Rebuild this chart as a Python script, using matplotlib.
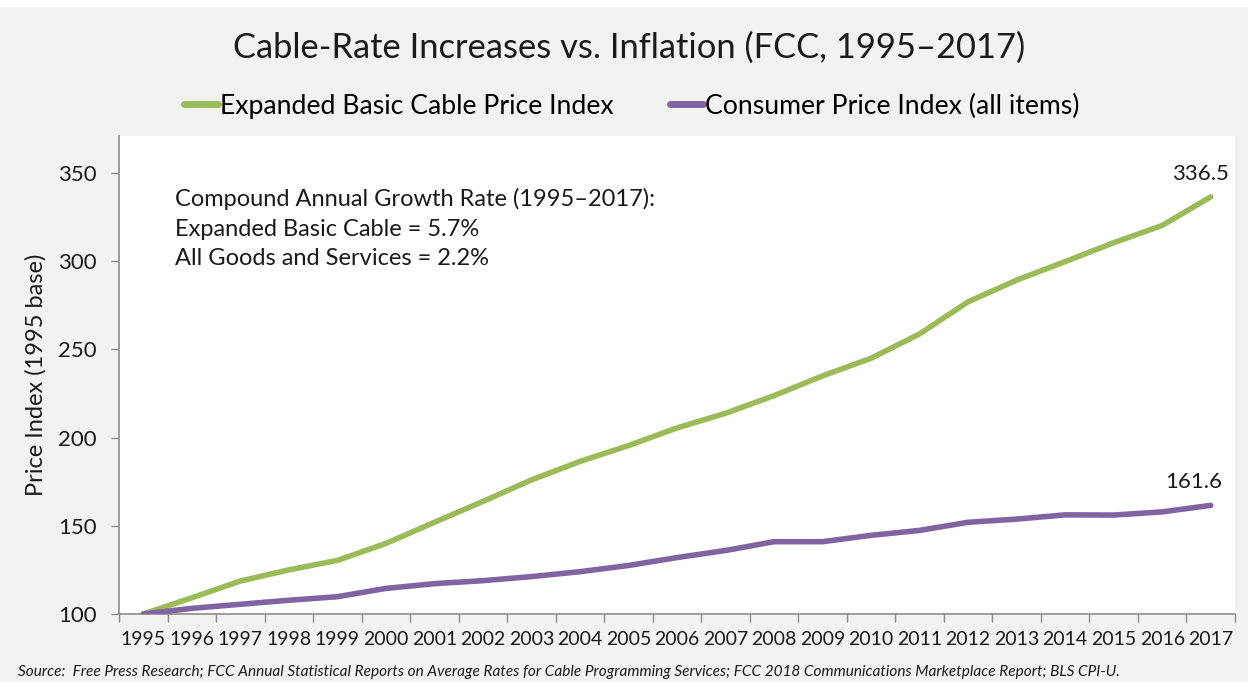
import matplotlib
matplotlib.use("Agg")
import matplotlib.pyplot as plt
from matplotlib.patches import Rectangle

# ---- data ----
years = list(range(1995, 2018))
cable_index = [100, 109.2, 118.7, 125.0, 130.4, 140.0, 152.0, 163.8, 176.0, 186.5,
               195.5, 205.5, 213.8, 223.8, 235.0, 245.0, 258.8, 277.0, 289.3, 299.8,
               310.5, 320.3, 336.5]
cpi_index = [100, 103.2, 105.5, 107.8, 109.8, 114.5, 117.2, 118.9, 121.2, 124.0,
             127.5, 132.0, 136.0, 141.0, 141.0, 144.6, 147.4, 152.0, 153.8, 156.2,
             156.1, 157.9, 161.6]
series_names = ["Expanded Basic Cable Price Index", "Consumer Price Index (all items)"]
end_labels = ["336.5", "161.6"]
y_ticks = [100, 150, 200, 250, 300, 350]

title = "Cable-Rate Increases vs. Inflation (FCC, 1995\u20132017)"
note_lines = ["Compound Annual Growth Rate (1995\u20132017):",
              "Expanded Basic Cable = 5.7%",
              "All Goods and Services = 2.2%"]
source = ("Source:  Free Press Research; FCC Annual Statistical Reports on Average Rates for "
          "Cable Programming Services; FCC 2018 Communications Marketplace Report; BLS CPI-U.")

GREEN = "#9bbb59"
PURPLE = "#8064a2"
BG = "#f2f2f2"
AXIS = "#8c8c8c"
TXT = "#1a1a1a"
FONT = "Lato"

plt.rcParams["font.family"] = [FONT, "DejaVu Sans"]

W, H = 1248, 682
fig = plt.figure(figsize=(W / 100, H / 100), dpi=100)
fig.patch.set_facecolor(BG)
fig.add_artist(Rectangle((0, 1 - 7 / H), 1, 7 / H, transform=fig.transFigure,
                         facecolor="white", edgecolor="none", zorder=0))

ax_l, ax_r, ax_t, ax_b = 119, 1235, 136, 614
ax = fig.add_axes([ax_l / W, 1 - ax_b / H, (ax_r - ax_l) / W, (ax_b - ax_t) / H])
ax.set_facecolor("white")

l1, = ax.plot(years, cable_index, color=GREEN, lw=4.0, solid_capstyle="round",
              solid_joinstyle="round", zorder=3)
l2, = ax.plot(years, cpi_index, color=PURPLE, lw=4.0, solid_capstyle="round",
              solid_joinstyle="round", zorder=3)

ax.set_xlim(years[0] - 0.5, years[-1] + 0.5)
ax.set_ylim(100, 371)

ax.set_xticks(years)
ax.set_xticklabels([str(y) for y in years], fontsize=14, color=TXT)
ax.set_xticks([y - 0.5 for y in years] + [years[-1] + 0.5], minor=True)
ax.tick_params(axis="x", which="major", length=0, pad=12)
ax.tick_params(axis="x", which="minor", length=6, width=1, color=AXIS, direction="out")

ax.set_yticks(y_ticks)
ax.set_yticklabels([str(v) for v in y_ticks], fontsize=16, color=TXT)
ax.tick_params(axis="y", length=6, width=1, color=AXIS, direction="out", pad=10)

for s in ["top", "right"]:
    ax.spines[s].set_visible(False)
for s in ["left", "bottom"]:
    ax.spines[s].set_color(AXIS)
    ax.spines[s].set_linewidth(1.2)

ax.set_ylabel("Price Index (1995 base)", fontsize=17, color=TXT, labelpad=8)

# end labels
ax.annotate(end_labels[0], (years[-1], cable_index[-1]), xytext=(13, 9.5),
            textcoords="offset points", ha="right", va="bottom", fontsize=16, color=TXT)
ax.annotate(end_labels[1], (years[-1], cpi_index[-1]), xytext=(8.6, 9.5),
            textcoords="offset points", ha="right", va="bottom", fontsize=16, color=TXT)

# note
ax.text((175 - ax_l) / (ax_r - ax_l), 1 - (188 - ax_t) / (ax_b - ax_t),
        "\n".join(note_lines), transform=ax.transAxes, ha="left", va="top",
        fontsize=17, color=TXT, linespacing=1.5)

# title
fig.text(629 / W, 1 - 48 / H, title, ha="center", va="center", fontsize=24.8, color=TXT)

# legend
leg = fig.legend([l1, l2], series_names, loc="center", bbox_to_anchor=(632 / W, 1 - 106 / H),
                 ncol=2, frameon=False, fontsize=19.2, handlelength=1.25, handletextpad=0.08,
                 columnspacing=2.1)
for h in leg.get_lines():
    h.set_linewidth(5)
    h.set_solid_capstyle("round")

# source
fig.text(18 / W, 1 - 672 / H, source, ha="left", va="center", fontsize=11.05,
         style="italic", color=TXT)

fig.savefig("out.png", dpi=100, facecolor=fig.get_facecolor())
